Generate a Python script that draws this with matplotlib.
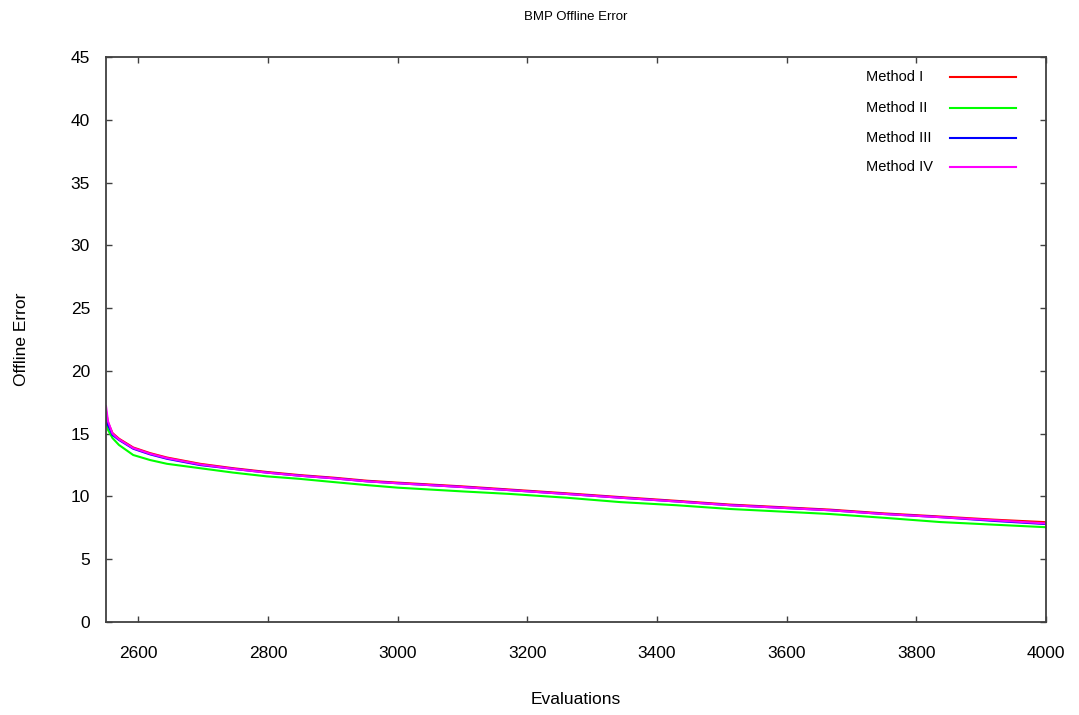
import matplotlib
matplotlib.use("Agg")
import matplotlib.pyplot as plt

plt.rcParams['font.family'] = ['Liberation Sans', 'DejaVu Sans']

evaluations = [2550, 2553, 2560, 2570, 2592, 2618, 2644, 2695, 2746, 2798, 2849, 2900,
               2953, 3000, 3100, 3173, 3260, 3343, 3430, 3513, 3590, 3667, 3750, 3837,
               3920, 4000]
method_1 = [16.8, 15.9, 15.05, 14.6, 13.9, 13.45, 13.1, 12.6, 12.25, 11.95, 11.7, 11.5,
            11.25, 11.1, 10.8, 10.55, 10.25, 9.95, 9.65, 9.35, 9.15, 8.95, 8.65, 8.4,
            8.15, 7.95]
method_2 = [16.3, 15.3, 14.65, 14.1, 13.3, 12.9, 12.6, 12.25, 11.9, 11.6, 11.4, 11.15,
            10.9, 10.7, 10.4, 10.2, 9.9, 9.55, 9.3, 9.0, 8.8, 8.6, 8.3, 7.96,
            7.75, 7.55]
method_3 = [16.5, 15.7, 14.9, 14.5, 13.8, 13.35, 13.0, 12.5, 12.2, 11.9, 11.65, 11.45,
            11.2, 11.05, 10.75, 10.5, 10.2, 9.9, 9.6, 9.3, 9.1, 8.9, 8.6, 8.35,
            8.05, 7.8]
method_4 = [17.2, 16.0, 15.0, 14.55, 13.85, 13.4, 13.05, 12.55, 12.2, 11.9, 11.65, 11.45,
            11.2, 11.05, 10.75, 10.5, 10.2, 9.9, 9.6, 9.3, 9.1, 8.9, 8.6, 8.35,
            8.1, 7.85]

labels = ["Method I", "Method II", "Method III", "Method IV"]
colors = ["#ff0000", "#00ff00", "#0000ff", "#ff00ff"]
series = [method_1, method_2, method_3, method_4]

xticks = [2600, 2800, 3000, 3200, 3400, 3600, 3800, 4000]
yticks = [0, 5, 10, 15, 20, 25, 30, 35, 40, 45]

W, H = 1079, 715
fig = plt.figure(figsize=(W / 100, H / 100), dpi=100)
L, R, T, B = 106, 1046, 57, 622
ax = fig.add_axes([L / W, (H - B) / H, (R - L) / W, (B - T) / H])

for vals, c in zip(series, colors):
    ax.plot(evaluations, vals, color=c, linewidth=1.5, solid_joinstyle='miter')

ax.set_xlim(2550, 4000)
ax.set_ylim(0, 45)
ax.set_xticks(xticks)
ax.set_yticks(yticks)
ax.tick_params(axis='both', which='both', direction='in', length=4, width=1,
               color='#404040', top=True, right=True, labelsize=12.5)
ax.tick_params(axis='x', pad=17)
ax.tick_params(axis='y', pad=11.5)
for sp in ax.spines.values():
    sp.set_linewidth(1.3)
    sp.set_color('#404040')

# legend (gnuplot style: text left, sample line right)
ax_w = R - L
ax_h = B - T
text_x = (866 - L) / ax_w
line_x0 = (950 - L) / ax_w
line_x1 = (1016 - L) / ax_w
leg_y = [77, 108, 138, 167]
for lab, c, yp in zip(labels, colors, leg_y):
    yf = (B - yp) / ax_h
    ax.text(text_x, yf, lab, transform=ax.transAxes, ha='left', va='center', fontsize=10.5)
    ax.plot([line_x0, line_x1], [yf, yf], transform=ax.transAxes, color=c, linewidth=1.5)

ax.set_xlabel("Evaluations", fontsize=12.5)
ax.xaxis.set_label_coords(0.5, (B - 700) / ax_h)
ax.xaxis.label.set_va('center')
ax.set_ylabel("Offline Error", fontsize=12.5)
ax.yaxis.set_label_coords((22 - L) / ax_w, 0.5)
ax.yaxis.label.set_va('center')
ax.yaxis.label.set_ha('center')
ax.yaxis.label.set_rotation_mode('default')

fig.text(0.5 * (L + R) / W, 1 - 17 / H, "BMP Offline Error", ha='center', va='center', fontsize=9.5)

fig.savefig("out.png", dpi=100)
